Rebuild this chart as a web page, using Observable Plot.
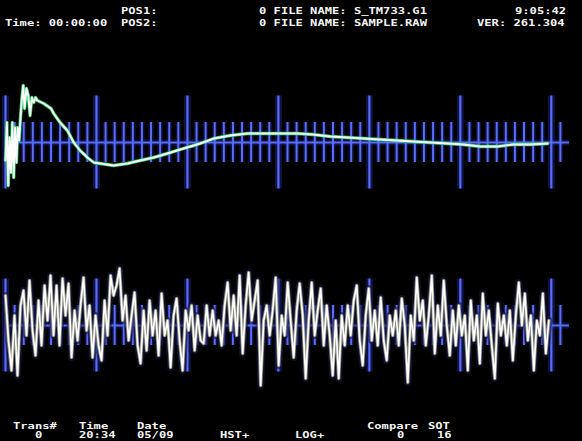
<!DOCTYPE html>
<html>
<head>
<meta charset="utf-8">
<script src="https://cdn.jsdelivr.net/npm/d3@7"></script>
<script src="https://cdn.jsdelivr.net/npm/@observablehq/plot@0.6"></script>
<style>
  html, body { margin: 0; padding: 0; background: #000; }
  #wrap { position: relative; width: 582px; height: 441px; overflow: hidden; background: #000; }
  .trace { position: absolute; left: 0; }
  .lbl { position: absolute; white-space: pre; color: #f4f4f4; font-family: "DejaVu Sans Mono", monospace;
         font-weight: bold; font-size: 9.2px; line-height: 8px; transform: scaleX(1.32); transform-origin: 0 0; }
  .lbl.ft { font-size: 8px; transform: scaleX(1.515); }
</style>
</head>
<body>
<div id="wrap"></div>
<script>
// ---- Graticule (divisions: major every 10 minor steps) ----
const majorTicks = [0, 10, 20, 30, 40, 50, 60];
const minorTicks = d3.range(1, 62).filter(t => t % 10 !== 0);

// ---- Upper trace (green), time in minor divisions, value in 1/10 major half-height ----
const topT = [0, 0.15, 0.3, 0.45, 0.6, 0.75, 0.9, 1.05, 1.2, 1.35, 1.5, 1.65, 1.8, 1.95, 2.1, 2.3, 2.5, 2.7, 2.9, 3.1,
  3.3, 3.5, 4.2, 5.0, 5.3, 6.0, 6.8, 7.5, 8.2, 9.0, 9.7, 10.4, 11.9, 13.4, 14.8, 16.3, 17.8, 19.2, 20.7, 21.4,
  22.9, 24.7, 26.6, 28.8, 30.2, 32.1, 33.8, 35.7, 37.6, 39.4, 41.2, 43.1, 44.8, 46.7, 48.6, 50.3, 52.2, 54.1,
  55.8, 57.7, 59.6];
const topV = [-1.8, 2.0, -4.3, 0.5, -3.0, 2.0, -3.5, 1.5, -2.0, 1.5, 0.2, 2.5, 4.4, 5.7, 3.4, 5.4, 4.7, 2.7, 4.5, 4.0,
  4.5, 4.2, 3.9, 3.4, 2.9, 2.0, 1.2, 0.0, -0.8, -1.5, -2.0, -2.1, -2.3, -2.1, -1.8, -1.5, -1.1, -0.7, -0.3, -0.1,
  0.4, 0.7, 0.9, 0.9, 0.9, 0.9, 0.8, 0.6, 0.5, 0.4, 0.3, 0.2, 0.1, 0.0, -0.1, -0.2, -0.4, -0.4,
  -0.2, -0.2, -0.1];

// ---- Lower trace (white noise), one sample every sampleStep divisions ----
const sampleStep = 0.33;
const noiseV = [
  3.0, -1.5, -4.5, 1.0, -5.0, 2.0, 3.5, -1.0, 4.5, -0.5, -3.0, 2.5, -2.0, 4.0, 0.5,
  5.0, -1.0, 4.0, -2.0, 4.7, 1.0, 4.2, -3.2, 1.5, -1.5, 2.0, 4.8, -0.5, 2.0, -3.2, 1.0, -2.0,
  -3.5, 2.5, -1.0, 5.0, 3.0, 4.0, 5.7, 0.5, 3.0, -1.5, 1.0, 3.3, -2.0, -3.8, 1.5, -2.5, 2.5,
  -1.0, 1.5, -3.0, 3.2, -1.0, 0.5, -4.2, 1.0, 2.7, -1.5, -4.5, 1.5, -0.5, 2.0, -2.5, 1.0, -1.5,
  -1.8, 2.0, -1.0, 1.5, -1.0, 0.5, -2.0, 2.0, 4.3, -0.5, 3.0, -1.0, 5.0, -2.8, 2.0, 5.3, 0.5,
  2.5, 4.5, -6.0, 0.5, 2.0, -1.0, 1.5, 4.8, -4.0, 1.0, -1.0, 4.3, 0.5, -3.2, 1.5, 4.2,
  1.0, -5.3, 0.5, 4.3, -1.0, 1.5, 3.7, -2.0, 2.0, -1.0, -5.0, 0.5, -5.3, 1.0, -2.0, 2.0, -1.0,
  2.5, 4.0, -1.5, -4.0, 1.0, 3.7, -1.5, 1.5, -2.0, 2.8, -1.5, -3.5, 1.0, -1.0, 1.5, -2.0,
  2.7, 0.0, -5.7, 1.0, -1.5, 4.8, 0.5, 2.5, -2.0, 1.0, 5.0, -2.8, 2.0, -1.0, 4.5, 0.0, -3.0,
  1.5, -2.0, 2.0, -1.0, 1.0, -4.5, 2.5, -1.5, 1.0, -3.8, 3.2, -1.0, 1.5, -2.0, -5.3, 2.2, -1.0,
  1.0, -2.0, 1.5, -3.5, 1.0, 4.3, 0.0, 3.2, -1.5, 1.0, -4.5, 0.5, -1.0, 3.2, -2.8, 0.5
];

// ---- Header / footer texts ----
const headerTexts = [
  {text: "POS1:", x: 121, row: 0},
  {text: "0 FILE NAME: S_TM733.G1", x: 259, row: 0},
  {text: "9:05:42", x: 515, row: 0},
  {text: "Time: 00:00:00", x: 5, row: 1},
  {text: "POS2:", x: 121, row: 1},
  {text: "0 FILE NAME: SAMPLE.RAW", x: 259, row: 1},
  {text: "VER: 261.304", x: 477, row: 1}
];
const footerTexts = [
  {text: "Trans#", x: 13, row: 0},
  {text: "Time", x: 79, row: 0},
  {text: "Date", x: 137, row: 0},
  {text: "Compare", x: 367, row: 0},
  {text: "SOT", x: 428, row: 0},
  {text: "0", x: 35, row: 1},
  {text: "20:34", x: 79, row: 1},
  {text: "05/09", x: 137, row: 1},
  {text: "HST+", x: 220, row: 1},
  {text: "LOG+", x: 295, row: 1},
  {text: "0", x: 397, row: 1},
  {text: "16", x: 437, row: 1}
];

const blue = "#5b6cf6", glow = "#1c2488";
const majorHalf = 4.65, minorHalf = 2.0, axisEnd = 62;

function graticule() {
  return [
    Plot.ruleY([0], {x1: 0, x2: axisEnd, stroke: glow, strokeWidth: 6, strokeOpacity: 0.45}),
    Plot.ruleX(majorTicks, {y1: -majorHalf, y2: majorHalf, stroke: glow, strokeWidth: 7, strokeOpacity: 0.5}),
    Plot.ruleX(minorTicks, {y1: -minorHalf, y2: minorHalf, stroke: glow, strokeWidth: 5, strokeOpacity: 0.45}),
    Plot.ruleY([0], {x1: 0, x2: axisEnd, stroke: blue, strokeWidth: 2}),
    Plot.ruleX(majorTicks, {y1: -majorHalf, y2: majorHalf, stroke: blue, strokeWidth: 2.2}),
    Plot.ruleX(minorTicks, {y1: -minorHalf, y2: minorHalf, stroke: blue, strokeWidth: 2})
  ];
}

function tracePlot(marks) {
  return Plot.plot({
    width: 582, height: 160,
    marginLeft: 5, marginRight: 13, marginTop: 0, marginBottom: 0,
    x: {domain: [0, axisEnd], axis: null},
    y: {domain: [-8, 8], axis: null},
    style: {background: "transparent", overflow: "visible"},
    marks: [...graticule(), ...marks]
  });
}

const topData = topT.map((t, i) => ({t, v: topV[i]}));
const noiseData = noiseV.map((v, i) => ({t: i * sampleStep, v}));

const wrap = document.getElementById("wrap");

const p1 = tracePlot([
  Plot.line(topData, {x: "t", y: "v", stroke: "#22cc5e", strokeWidth: 3.4, strokeLinejoin: "round"}),
  Plot.line(topData, {x: "t", y: "v", stroke: "#ffffff", strokeWidth: 1.9, strokeLinejoin: "round"})
]);
p1.classList.add("trace");
p1.style.top = "62px";
wrap.appendChild(p1);

const p2 = tracePlot([
  Plot.line(noiseData, {x: "t", y: "v", stroke: "#151540", strokeWidth: 7, strokeOpacity: 0.6}),
  Plot.line(noiseData, {x: "t", y: "v", stroke: "#8a8a80", strokeWidth: 3.4}),
  Plot.line(noiseData, {x: "t", y: "v", stroke: "#ffffff", strokeWidth: 1.7})
]);
p2.classList.add("trace");
p2.style.top = "245px";
wrap.appendChild(p2);

function addTexts(list, rowTops, cls) {
  for (const d of list) {
    const el = document.createElement("div");
    el.className = "lbl" + (cls ? " " + cls : "");
    el.textContent = d.text;
    el.style.left = d.x + "px";
    el.style.top = rowTops[d.row] + "px";
    wrap.appendChild(el);
  }
}
addTexts(headerTexts, [6.5, 19.2]);
addTexts(footerTexts, [422.9, 432.3], "ft");
</script>
</body>
</html>
